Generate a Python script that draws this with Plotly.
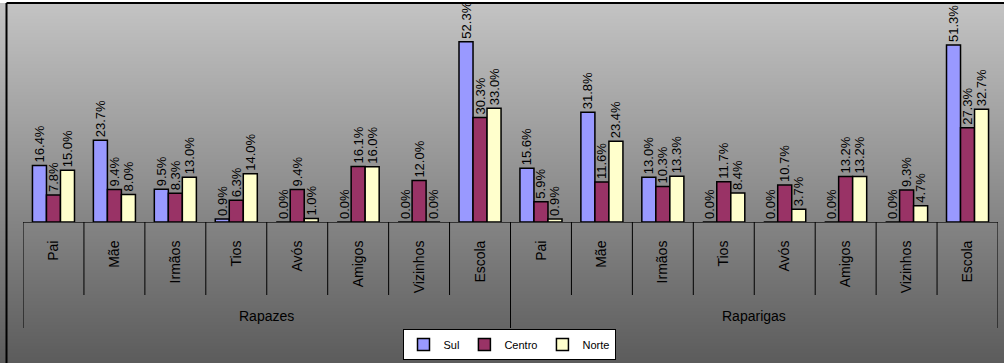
import base64, struct, zlib
import plotly.graph_objects as go

# ---------------- data ----------------
categories = ["Pai", "Mãe", "Irmãos", "Tios", "Avós", "Amigos", "Vizinhos", "Escola"]
groups = ["Rapazes", "Raparigas"]
series_names = ["Sul", "Centro", "Norte"]

sul_rapazes = [16.4, 23.7, 9.5, 0.9, 0.0, 0.0, 0.0, 52.3]
centro_rapazes = [7.8, 9.4, 8.3, 6.3, 9.4, 16.1, 12.0, 30.3]
norte_rapazes = [15.0, 8.0, 13.0, 14.0, 1.0, 16.0, 0.0, 33.0]

sul_raparigas = [15.6, 31.8, 13.0, 0.0, 0.0, 0.0, 0.0, 51.3]
centro_raparigas = [5.9, 11.6, 10.3, 11.7, 10.7, 13.2, 9.3, 27.3]
norte_raparigas = [0.9, 23.4, 13.3, 8.4, 3.7, 13.2, 4.7, 32.7]

colors = ["#9999FF", "#993366", "#FFFFCC"]

# ---------------- figure geometry ----------------
W, H = 1004, 363
ML, MR, MT, MB = 23, 6, 3, 141
plot_h = H - MT - MB
plot_w = W - ML - MR


def py(pix):  # pixel y -> paper y
    return (H - MB - pix) / plot_h


def px(pix):  # pixel x -> paper x
    return (pix - ML) / plot_w


# ---------------- gradient background as PNG ----------------
def gradient_png(h, top, bottom):
    rows = b""
    for i in range(h):
        v = int(round(top + (bottom - top) * i / (h - 1)))
        rows += b"\x00" + bytes([v])
    def chunk(t, d):
        c = struct.pack(">I", len(d)) + t + d
        return c + struct.pack(">I", zlib.crc32(t + d) & 0xFFFFFFFF)
    png = b"\x89PNG\r\n\x1a\n"
    png += chunk(b"IHDR", struct.pack(">IIBBBBB", 1, h, 8, 0, 0, 0, 0))
    png += chunk(b"IDAT", zlib.compress(rows))
    png += chunk(b"IEND", b"")
    return "data:image/png;base64," + base64.b64encode(png).decode()


grad = gradient_png(360, 196, 92)

n = len(categories)
xpos = list(range(2 * n))
values = [sul_rapazes + sul_raparigas,
          centro_rapazes + centro_raparigas,
          norte_rapazes + norte_raparigas]

fig = go.Figure()
for name, vals, col in zip(series_names, values, colors):
    fig.add_trace(go.Bar(
        x=xpos, y=vals, name=name,
        marker=dict(color=col, line=dict(color="black", width=1.5)),
        texttemplate="%{y:.1f}%", textposition="outside", textangle=-90,
        textfont=dict(family="Liberation Sans, Arial", size=13, color="black"),
        constraintext="none", cliponaxis=False,
    ))

shapes = []
# divider lines under the category axis
for i in range(2 * n + 1):
    major = i % n == 0
    shapes.append(dict(type="line", xref="x", yref="paper",
                       x0=i - 0.5, x1=i - 0.5, y0=0,
                       y1=py(328) if major else py(295),
                       line=dict(color="black", width=1)))
# white strip above frame and frame lines
shapes.append(dict(type="rect", xref="paper", yref="paper", x0=px(0), x1=px(W),
                   y0=py(3), y1=py(0), fillcolor="white", line=dict(width=0), layer="below"))
shapes.append(dict(type="line", xref="paper", yref="paper", x0=px(6.5), x1=px(6.5),
                   y0=py(3), y1=py(H), line=dict(color="black", width=2)))
shapes.append(dict(type="line", xref="paper", yref="paper", x0=px(6.5), x1=px(W),
                   y0=py(3), y1=py(3), line=dict(color="black", width=2)))

annotations = []
for g, name in enumerate(groups):
    annotations.append(dict(x=g * n + (n - 1) / 2, xref="x", y=py(316), yref="paper",
                            yanchor="middle", text=name, showarrow=False,
                            font=dict(family="Liberation Sans, Arial", size=14, color="black")))

fig.update_layout(
    width=W, height=H,
    margin=dict(l=ML, r=MR, t=MT, b=MB, autoexpand=False),
    paper_bgcolor="white", plot_bgcolor="rgba(0,0,0,0)",
    barmode="group", bargap=0.31, bargroupgap=0,
    showlegend=True,
    legend=dict(orientation="h", x=px(509), xanchor="center", y=py(329), yanchor="top",
                bgcolor="white", bordercolor="black", borderwidth=1,
                font=dict(family="Liberation Sans, Arial", size=11, color="black"),
                itemwidth=30, tracegroupgap=0, itemclick=False),
    xaxis=dict(range=[-0.5, 2 * n - 0.5], tickmode="array", tickvals=xpos,
               ticktext=categories * 2, tickangle=-90, ticks="", ticklabelstandoff=12,
               tickfont=dict(family="Liberation Sans, Arial", size=14, color="black"),
               showline=True, linecolor="#333333", linewidth=1, showgrid=False,
               zeroline=False, fixedrange=True),
    yaxis=dict(range=[0, 63.5], visible=False, showgrid=False, fixedrange=True),
    images=[dict(source=grad, xref="paper", yref="paper", x=px(0), y=py(0),
                 sizex=px(W) - px(0), sizey=py(0) - py(H), sizing="stretch",
                 xanchor="left", yanchor="top", layer="below")],
    shapes=shapes,
    annotations=annotations,
)

fig.write_html("out.html")
